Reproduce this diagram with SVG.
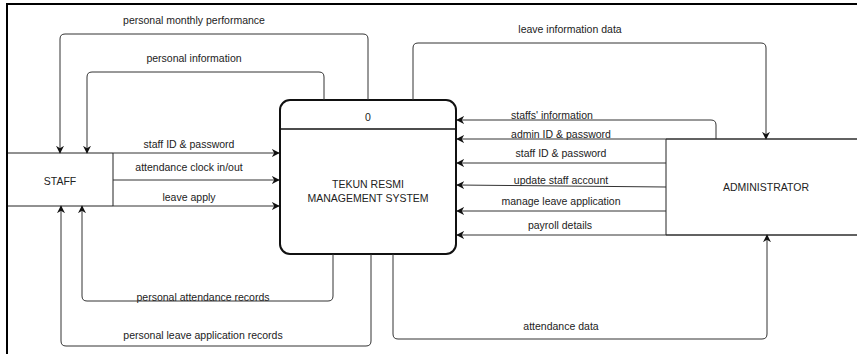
<svg xmlns="http://www.w3.org/2000/svg" width="857" height="354" viewBox="0 0 857 354">
<style>
text{font-family:"Liberation Sans",Arial,sans-serif;font-size:10.5px;fill:#222;text-anchor:middle}
.c{fill:none;stroke:#333;stroke-width:1}
.b{fill:#fff;stroke:#222;stroke-width:1}
</style>
<defs>
<marker id="ah" viewBox="0 0 10 10" refX="9" refY="5" markerWidth="8" markerHeight="8" markerUnits="userSpaceOnUse" orient="auto">
<path d="M0,0 L10,5 L0,10 L3,5 Z" fill="#111"/>
</marker>
</defs>
<rect x="0" y="0" width="857" height="354" fill="#fff"/>
<path d="M7,354 V4 H857" fill="none" stroke="#000" stroke-width="2"/>
<g id="staff">
<path class="b" d="M8,153 H113 V206 H8"/>
<text x="60" y="185">STAFF</text>
</g>
<g id="administrator">
<path class="b" d="M857,139 H666 V235 H857"/>
<text x="766" y="191">ADMINISTRATOR</text>
</g>
<g id="process">
<rect x="280" y="100" width="176" height="154" rx="10" fill="#fff" stroke="#111" stroke-width="2"/>
<line x1="281" y1="129" x2="455" y2="129" stroke="#111" stroke-width="1.5"/>
<text x="368" y="121">0</text>
<text x="368" y="188">TEKUN RESMI</text>
<text x="368" y="202">MANAGEMENT SYSTEM</text>
</g>
<g id="connectors" marker-end="url(#ah)">
<path class="c" marker-end="url(#ah)" d="M368,100 V39 Q368,34 363,34 H65 Q60,34 60,39 V153"/>
<path class="c" marker-end="url(#ah)" d="M324,100 V77 Q324,72 319,72 H92 Q87,72 87,77 V153"/>
<path class="c" marker-end="url(#ah)" d="M413,100 V48 Q413,43 418,43 H761 Q766,43 766,48 V139"/>
<path class="c" marker-end="url(#ah)" d="M716,139 V125 Q716,120 711,120 H457"/>
<path class="c" marker-end="url(#ah)" d="M857,139 H457"/>
<path class="c" marker-end="url(#ah)" d="M666,163 H457"/>
<path class="c" marker-end="url(#ah)" d="M666,187 L457,185"/>
<path class="c" marker-end="url(#ah)" d="M666,211 H457"/>
<path class="c" marker-end="url(#ah)" d="M857,235 H457"/>
<path class="c" marker-end="url(#ah)" d="M393,254 V334 Q393,339 398,339 H762 Q767,339 767,334 V235"/>
<path class="c" marker-end="url(#ah)" d="M333,254 V296 Q333,301 328,301 H87 Q82,301 82,296 V206"/>
<path class="c" marker-end="url(#ah)" d="M371,254 V341 Q371,346 366,346 H66 Q61,346 61,341 V206"/>
<path class="c" marker-end="url(#ah)" d="M113,153 H279"/>
<path class="c" marker-end="url(#ah)" d="M113,180 H279"/>
<path class="c" marker-end="url(#ah)" d="M113,206 H279"/>
</g>
<g id="labels">
<text x="194" y="24">personal monthly performance</text>
<text x="194" y="62">personal information</text>
<text x="570" y="33">leave information data</text>
<text x="552" y="119">staffs' information</text>
<text x="561" y="138">admin ID &amp; password</text>
<text x="561" y="156.5">staff ID &amp; password</text>
<text x="561" y="184">update staff account</text>
<text x="561" y="204.5">manage leave application</text>
<text x="560" y="229">payroll details</text>
<text x="189" y="148">staff ID &amp; password</text>
<text x="189" y="171">attendance clock in/out</text>
<text x="189" y="200.5">leave apply</text>
<text x="203" y="301">personal attendance records</text>
<text x="203" y="339">personal leave application records</text>
<text x="561" y="330">attendance data</text>
</g>
</svg>
